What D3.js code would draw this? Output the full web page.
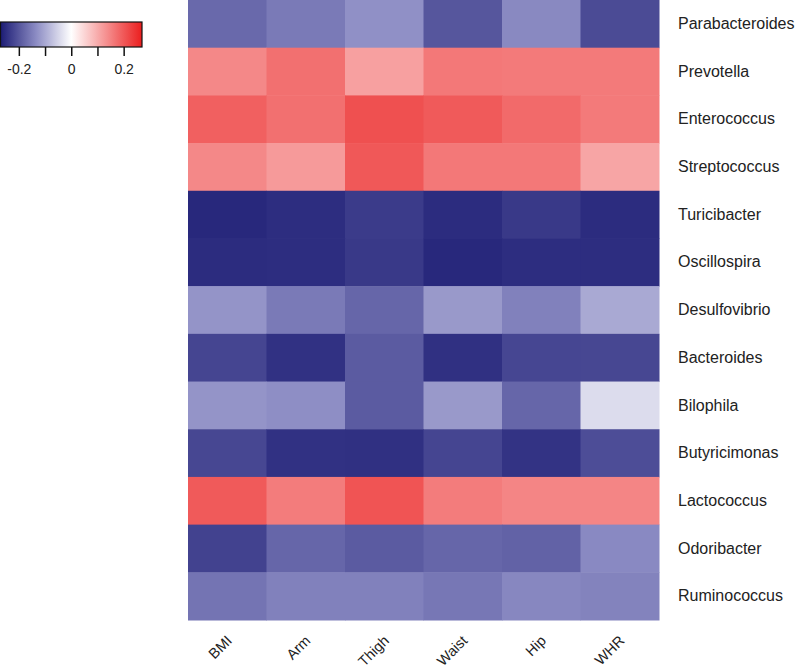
<!DOCTYPE html>
<html>
<head>
<meta charset="utf-8">
<script src="https://cdn.jsdelivr.net/npm/d3@7"></script>
<style>
  html, body { margin: 0; padding: 0; background: #fff; }
  svg { display: block; font-family: "Liberation Sans", Arial, sans-serif; }
</style>
</head>
<body>
<svg id="chart" width="800" height="669"></svg>
<script>
const columns = ["BMI", "Arm", "Thigh", "Waist", "Hip", "WHR"];
const genera = ["Parabacteroides", "Prevotella", "Enterococcus", "Streptococcus", "Turicibacter",
  "Oscillospira", "Desulfovibrio", "Bacteroides", "Bilophila", "Butyricimonas",
  "Lactococcus", "Odoribacter", "Ruminococcus"];
// correlation values, one row per genus, columns in order of `columns`
const parabacteroides = [-0.176, -0.156, -0.129, -0.200, -0.138, -0.213];
const prevotella      = [ 0.143,  0.172,  0.114,  0.162,  0.160,  0.160];
const enterococcus    = [ 0.191,  0.172,  0.210,  0.198,  0.179,  0.160];
const streptococcus   = [ 0.143,  0.121,  0.200,  0.162,  0.162,  0.108];
const turicibacter    = [-0.256, -0.249, -0.232, -0.251, -0.235, -0.251];
const oscillospira    = [-0.251, -0.249, -0.235, -0.256, -0.249, -0.249];
const desulfovibrio   = [-0.124, -0.156, -0.180, -0.119, -0.147, -0.100];
const bacteroides     = [-0.220, -0.244, -0.193, -0.246, -0.219, -0.218];
const bilophila       = [-0.124, -0.131, -0.193, -0.119, -0.180, -0.041];
const butyricimonas   = [-0.218, -0.244, -0.246, -0.220, -0.242, -0.210];
const lactococcus     = [ 0.198,  0.157,  0.205,  0.157,  0.146,  0.146];
const odoribacter     = [-0.224, -0.180, -0.193, -0.180, -0.185, -0.137];
const ruminococcus    = [-0.163, -0.147, -0.147, -0.159, -0.140, -0.145];
const rowValues = [parabacteroides, prevotella, enterococcus, streptococcus, turicibacter,
  oscillospira, desulfovibrio, bacteroides, bilophila, butyricimonas,
  lactococcus, odoribacter, ruminococcus];
const legendTicks = [-0.2, -0.1, 0, 0.1, 0.2];
const legendTickLabels = ["-0.2", "", "0", "", "0.2"];

const cells = [];
genera.forEach((g, i) => columns.forEach((c, j) => cells.push({ genus: g, col: c, value: rowValues[i][j] })));

const svg = d3.select("#chart");
const grid = { left: 188, right: 659, top: 0, bottom: 620 };

const x = d3.scaleBand().domain(columns).range([grid.left, grid.right]);
const y = d3.scaleBand().domain(genera).range([grid.top, grid.bottom]);
const lim = 0.27;
const color = d3.scaleLinear()
  .domain([-lim, -lim / 2, 0, lim])
  .range(["#1c1c74", "#8b8bc3", "#ffffff", "#eb1e1e"])
  .interpolate(d3.interpolateRgb);

svg.append("g").selectAll("rect").data(cells).join("rect")
  .attr("x", d => x(d.col))
  .attr("y", d => y(d.genus))
  .attr("width", x.bandwidth() + 0.5)
  .attr("height", y.bandwidth() + 0.5)
  .attr("fill", d => color(d.value));

// row labels
const yAxis = d3.axisRight(y).tickSize(0).tickPadding(19);
const gy = svg.append("g").attr("transform", `translate(${grid.right},0)`).call(yAxis);
gy.select(".domain").remove();
gy.selectAll("text").attr("font-size", 16).attr("fill", "#222")
  .style("font-family", "'Liberation Sans', Arial, sans-serif");

// column labels (rotated 45 degrees, ending under each column centre)
svg.append("g").selectAll("text").data(columns).join("text")
  .attr("transform", d => `translate(${x(d) + x.bandwidth() / 2 + 2},${638}) rotate(-45)`)
  .attr("text-anchor", "end")
  .attr("dy", "0.35em")
  .attr("font-size", 14.5)
  .attr("fill", "#222")
  .text(d => d);

// legend
const lx = d3.scaleLinear().domain([-lim, lim]).range([0.5, 142]);
const defs = svg.append("defs");
const grad = defs.append("linearGradient").attr("id", "lg").attr("x1", "0%").attr("x2", "100%");
d3.range(0, 1.0001, 0.05).forEach(t => {
  grad.append("stop").attr("offset", (t * 100) + "%").attr("stop-color", color(-lim + 2 * lim * t));
});
const legend = svg.append("g").attr("transform", "translate(0,22)");
legend.append("rect").attr("x", lx(-lim)).attr("y", 0)
  .attr("width", lx(lim) - lx(-lim)).attr("height", 25)
  .attr("fill", "url(#lg)").attr("stroke", "#111").attr("stroke-width", 1.2);
const lAxis = d3.axisBottom(lx).tickValues(legendTicks)
  .tickFormat((d, i) => legendTickLabels[i]).tickSize(9).tickPadding(8);
const gl = legend.append("g").attr("transform", "translate(0,25)").call(lAxis);
gl.select(".domain").remove();
gl.selectAll(".tick line").attr("stroke", "#111").attr("stroke-width", 1.5);
gl.selectAll("text").attr("font-size", 14).attr("fill", "#222")
  .style("font-family", "'Liberation Sans', Arial, sans-serif");
</script>
</body>
</html>
